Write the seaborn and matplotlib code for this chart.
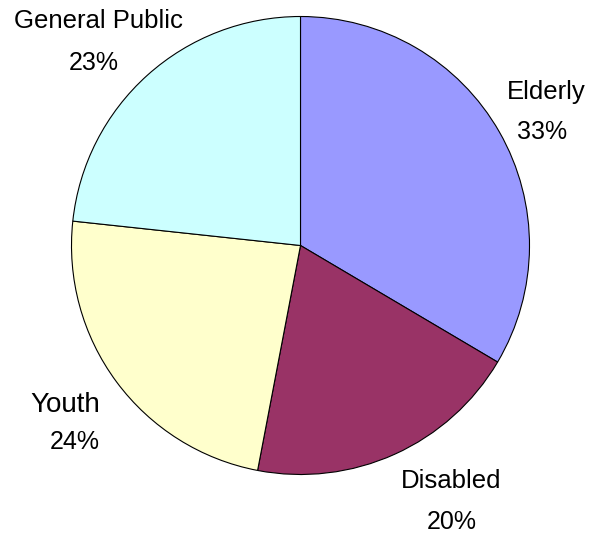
import matplotlib
matplotlib.use("Agg")
import matplotlib.pyplot as plt
import seaborn as sns

sns.set_theme(style="white")
plt.rcParams['font.family'] = ['Liberation Sans', 'DejaVu Sans']

categories = ["Elderly", "Disabled", "Youth", "General Public"]
values = [33.5, 19.5, 23.7, 23.3]
pct_labels = ["33%", "20%", "24%", "23%"]
colors = ["#9999FF", "#993366", "#FFFFCC", "#CCFFFF"]

W, H = 594, 538
fig = plt.figure(figsize=(W / 100, H / 100), dpi=100)
R = 229
cx, cy = 300.5, 245.5
ax = fig.add_axes([(cx - R) / W, (H - cy - R) / H, 2 * R / W, 2 * R / H])
ax.pie(values, colors=colors, startangle=90, counterclock=False,
       wedgeprops=dict(edgecolor="black", linewidth=0.8), radius=1)
ax.set_xlim(-1, 1)
ax.set_ylim(-1, 1)
ax.set_aspect("equal")
ax.axis("off")

def to_data(px, py):
    return (px - cx) / R, (cy - py) / R

# (name centre x, name baseline y), (pct centre x, pct baseline y), name font size
label_pos = {
    "Elderly": ((546, 99), (541.7, 139), 18.5),
    "Disabled": ((451, 488), (452, 529), 18.5),
    "Youth": ((65, 411.5), (75, 449), 20),
    "General Public": ((98, 28), (94, 70.5), 18.5),
}
for cat, pct in zip(categories, pct_labels):
    p1, p2, fs = label_pos[cat]
    x, y = to_data(*p1)
    ax.text(x, y, cat, ha="center", va="baseline", fontsize=fs, clip_on=False, color="black")
    x, y = to_data(*p2)
    ax.text(x, y, pct, ha="center", va="baseline", fontsize=18, clip_on=False, color="black")

fig.savefig("out.png", dpi=100)
